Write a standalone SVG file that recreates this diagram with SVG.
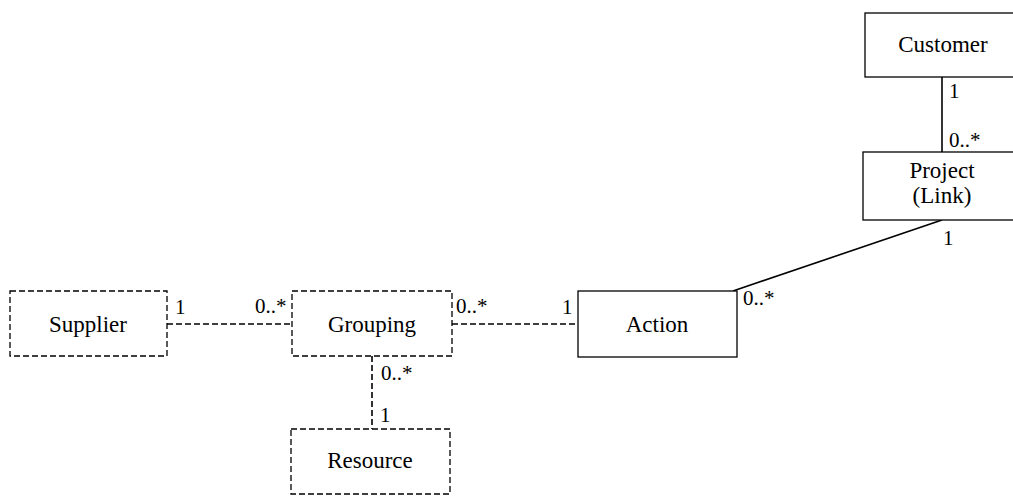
<svg xmlns="http://www.w3.org/2000/svg" width="1013" height="496" viewBox="0 0 1013 496">
<style>
.box{fill:#fff;stroke:#000;stroke-width:1.3}
.dash{stroke-dasharray:6,3}
.lbl{font-size:21px;fill:#000}
.name{font-size:23px;fill:#000;text-anchor:middle}
.conn{stroke:#000;stroke-width:1.6;fill:none}
</style>
<rect width="1013" height="496" fill="#fff"/>
<g font-family="'Liberation Serif','Times New Roman','DejaVu Serif',serif">
<g id="connectors">
<line class="conn dash" x1="167" y1="324" x2="292" y2="324"/>
<line class="conn dash" x1="452" y1="324" x2="578" y2="324"/>
<line class="conn dash" x1="372" y1="356" x2="372" y2="429"/>
<line class="conn" x1="942" y1="77" x2="942" y2="152"/>
<line class="conn" x1="733" y1="291" x2="942" y2="220"/>
<text class="lbl" x="175" y="314">1</text>
<text class="lbl" x="255" y="313">0..*</text>
<text class="lbl" x="456" y="313">0..*</text>
<text class="lbl" x="562" y="314">1</text>
<text class="lbl" x="381" y="380">0..*</text>
<text class="lbl" x="380" y="422">1</text>
<text class="lbl" x="949" y="98">1</text>
<text class="lbl" x="949" y="147">0..*</text>
<text class="lbl" x="943" y="245">1</text>
<text class="lbl" x="743" y="305">0..*</text>
</g>
<g id="supplier"><rect class="box dash" x="10" y="291" width="157" height="65"/><text class="name" x="88" y="332">Supplier</text></g>
<g id="grouping"><rect class="box dash" x="292" y="291" width="160" height="65"/><text class="name" x="372" y="332">Grouping</text></g>
<g id="action"><rect class="box" x="578" y="291" width="159" height="66"/><text class="name" x="657" y="332">Action</text></g>
<g id="resource"><rect class="box dash" x="291" y="429" width="159" height="65"/><text class="name" x="370" y="468">Resource</text></g>
<g id="customer"><rect class="box" x="865" y="13" width="158" height="64"/><text class="name" x="943" y="52">Customer</text></g>
<g id="project"><rect class="box" x="863" y="152" width="160" height="68"/><text class="name" x="942" y="178">Project</text><text class="name" x="942" y="203">(Link)</text></g>
</g>
</svg>
